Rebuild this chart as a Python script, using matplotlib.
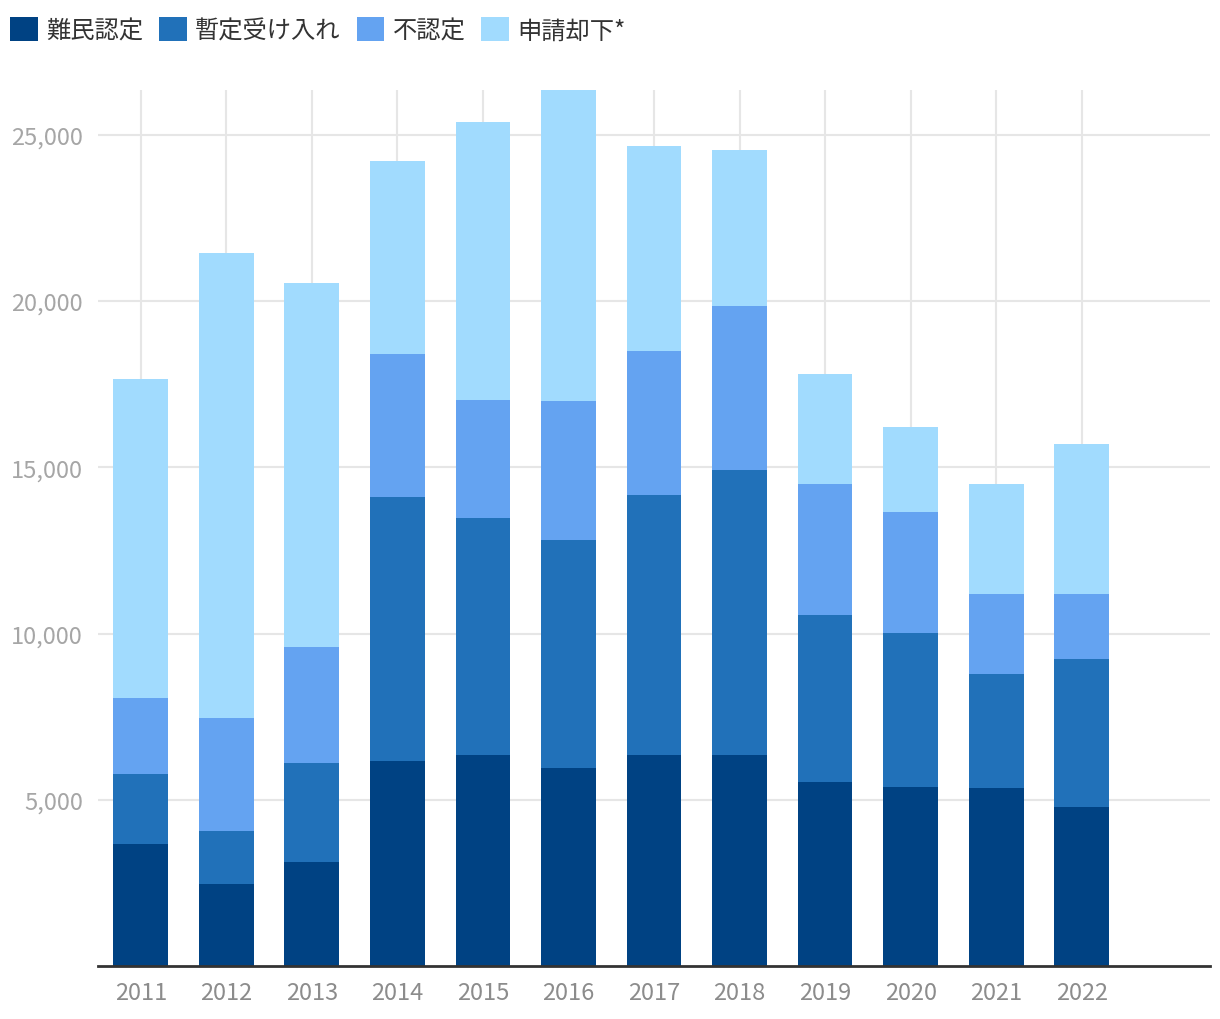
import matplotlib
matplotlib.use("Agg")
import matplotlib.pyplot as plt
from matplotlib.ticker import FuncFormatter
import numpy as np

plt.rcParams['font.family'] = ['Noto Sans CJK JP', 'DejaVu Sans']

years = ["2011", "2012", "2013", "2014", "2015", "2016",
         "2017", "2018", "2019", "2020", "2021", "2022"]
recognized = [3670, 2470, 3130, 6170, 6350, 5960, 6350, 6350, 5540, 5390, 5360, 4780]
temporary = [2110, 1590, 2980, 7940, 7130, 6860, 7820, 8570, 5020, 4630, 3420, 4460]
rejected = [2280, 3400, 3490, 4300, 3550, 4180, 4330, 4940, 3940, 3640, 2410, 1950]
dismissed = [9600, 13990, 10950, 5810, 8360, 9350, 6170, 4690, 3310, 2560, 3310, 4510]

series = [
    ("難民認定", recognized, "#004283"),
    ("暫定受け入れ", temporary, "#2171b9"),
    ("不認定", rejected, "#64a3f1"),
    ("申請却下*", dismissed, "#a1dbfe"),
]

fig = plt.figure(figsize=(12.2, 10.2), dpi=100)
ax = fig.add_axes([98 / 1220, 53 / 1020, (1210 - 98) / 1220, (967 - 91) / 1020])

x = np.arange(len(years))
bottom = np.zeros(len(years))
for label, vals, color in series:
    ax.bar(x, vals, width=0.64, bottom=bottom, color=color, label=label, zorder=2)
    bottom += np.array(vals)

ax.set_xlim(-0.5, len(years) + 0.5)
ax.set_ylim(0, bottom.max())
ax.set_xticks(x)
ax.set_xticklabels(years)
ax.set_yticks([5000, 10000, 15000, 20000, 25000])
ax.yaxis.set_major_formatter(FuncFormatter(lambda v, p: f"{int(v):,}"))

ax.grid(True, color="#e6e6e6", linewidth=1.5, zorder=0)
for s in ["top", "right", "left"]:
    ax.spines[s].set_visible(False)
ax.spines["bottom"].set_color("#333333")
ax.spines["bottom"].set_linewidth(2)
ax.tick_params(axis="both", length=0, labelsize=17, labelcolor="#8c8c8c")
ax.tick_params(axis="x", pad=11)
ax.tick_params(axis="y", pad=11)
for t in ax.get_yticklabels():
    t.set_color("#a6a6a6")

fig.legend(loc="upper left", bbox_to_anchor=(10 / 1220, 1 - 18 / 1020), ncol=4,
           frameon=False, fontsize=17.5, handlelength=1.15, handleheight=1.15,
           handletextpad=0.33, columnspacing=0.66, borderaxespad=0.0, borderpad=0.0,
           labelcolor="#333333")

fig.savefig("out.png", dpi=100)
